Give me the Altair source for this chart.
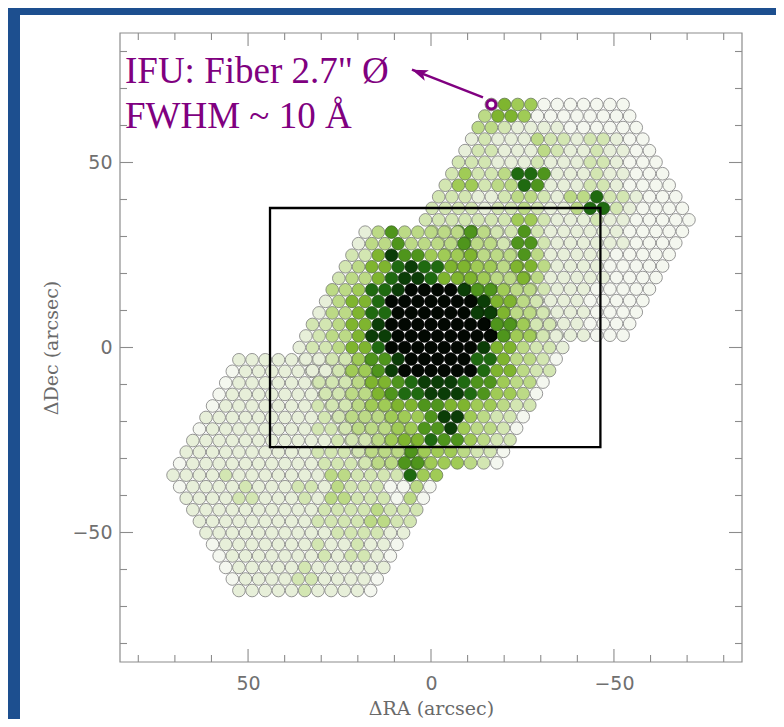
import math
import pandas as pd
import altair as alt

# ---------------- data ----------------
# three PPak-like hexagonal pointings (arcsec), drawn in this order
HEX_CENTERS_RA = [34.5, -34.5, 0.0]
HEX_CENTERS_DEC = [-34.5, 34.5, 0.0]
FIBER_PITCH = 3.6      # fiber centre-to-centre spacing (arcsec)
HEX_RINGS = 10         # 331 fibers per bundle

# flux level (0 = empty ... 9 = saturated) on a
# 5" grid: columns RA = 70 ... -70, rows Dec = 65 ... -65
GRID_RA_START = 70.0
GRID_DEC_START = 65.0
GRID_STEP = 5.0
FLUX_GRID = [
    "0" * 17 + "354" + "0" * 9,
    "0" * 15 + "1132111" + "0" * 7,
    "0" * 15 + "1121132121" + "0" * 4,
    "0" * 15 + "1221121121" + "0" * 4,
    "0" * 15 + "2423761121" + "0" * 4,
    "0" * 14 + "22212321372" + "1" + "0" * 3,
    "0" * 14 + "2222242112" + "1" + "0" * 4,
    "0" * 10 + "136333632621111" + "0" * 4,
    "0" * 9 + "125864453363111" + "0" * 5,
    "0" * 8 + "2235787554353111" + "0" * 5,
    "0" * 8 + "134789998643211" + "0" * 6,
    "0" * 7 + "1135799999853211" + "0" * 6,
    "0" * 7 + "1235899999964211" + "0" * 6,
    "0" * 7 + "123579999985321" + "0" * 7,
    "0" * 4 + "11111246899997532" + "0" * 8,
    "0" * 4 + "1111223567887643" + "0" * 9,
    "0" * 3 + "11111223455655432" + "0" * 9,
    "0" * 2 + "11111122334468432" + "0" * 10,
    "0" + "111111112234576432" + "0" * 10,
    "0" + "11111112223364432" + "0" * 11,
    "111211111322274" + "0" * 14,
    "0" + "1112112132203" + "0" * 15,
    "0" + "1111111222322" + "0" * 15,
    "0" * 2 + "11111112221" + "0" * 16,
    "0" * 3 + "111112121" + "0" * 17,
    "0" * 4 + "11121111" + "0" * 17,
    "0" * 4 + "1112111" + "0" * 18,
]
LEVELS = list(range(10))
LEVEL_COLORS = ["#f4f7ef", "#e7efd9", "#d3e6b2", "#bcda86", "#a0cb56",
                "#7fb52f", "#4f951c", "#1f6a10", "#0b3d07", "#020802"]
LEVEL_OUTLINES = ["#7d7d7d", "#7d7d7d", "#7d7d7d", "#767d6e", "#6a7a5a",
                  "#5a7444", "#3f6a28", "#24501a", "#0d2a08", "#000000"]

# black field-of-view box (arcsec)
BOX_RA = [44.0]
BOX_RA2 = [-46.3]
BOX_DEC = [37.7]
BOX_DEC2 = [-26.9]

# annotation: highlighted fiber, arrow, text
RING_RA = [-16.5]
RING_DEC = [65.7]
ARROW_RA = [-14.2]
ARROW_DEC = [67.6]
ARROW_TIP_RA = [5.2]
ARROW_TIP_DEC = [75.1]
NOTE_LINES = ['IFU: Fiber 2.7" \u00d8', "FWHM ~ 10 \u00c5"]

MAJOR_TICKS = [-50, 0, 50]
MINOR_TICKS = [-80, -70, -60, -40, -30, -20, -10, 10, 20, 30, 40, 60, 70, 80]

# ---------------- build tables ----------------
ncol = len(FLUX_GRID[0])
nrow = len(FLUX_GRID)
rows = []
for hx, hy in zip(HEX_CENTERS_RA, HEX_CENTERS_DEC):
    for j in range(-HEX_RINGS, HEX_RINGS + 1):
        n = 2 * HEX_RINGS + 1 - abs(j)
        for i in range(n):
            ra = hx + (i - (n - 1) / 2) * FIBER_PITCH
            dec = hy + j * FIBER_PITCH * math.sqrt(3) / 2
            c = min(max(int(round((GRID_RA_START - ra) / GRID_STEP)), 0), ncol - 1)
            r = min(max(int(round((GRID_DEC_START - dec) / GRID_STEP)), 0), nrow - 1)
            rows.append({"ra": ra, "dec": dec, "level": int(FLUX_GRID[r][c])})
fib_df = pd.DataFrame(rows)

W, H = 622, 629
CHART_W, CHART_H = 768, 711
PAD_L, PAD_T = 112, 25
PURPLE = "#800080"
FRAME = "#8c8c8c"

xscale = alt.Scale(domain=[-85, 85], reverse=True, nice=False, zero=False)
yscale = alt.Scale(domain=[-85, 85], nice=False, zero=False)
minus = "replace(datum.label, '-', '\u2212')"

x_axis = alt.Axis(title="\u0394RA (arcsec)", values=MAJOR_TICKS, ticks=False, tickSize=0,
                  domain=False, grid=False, labelFont="DejaVu Sans", labelFontSize=19,
                  labelColor="#707070", labelPadding=12, titleFont="DejaVu Serif",
                  titleFontSize=19, titleFontWeight="normal", titleColor="#6a6a6a",
                  titlePadding=6, labelExpr=minus, zindex=1)
y_axis = alt.Axis(title="\u0394Dec (arcsec)", values=MAJOR_TICKS, ticks=False, tickSize=0,
                  domain=False, grid=False, labelFont="DejaVu Sans", labelFontSize=19,
                  labelColor="#707070", labelPadding=8, titleFont="DejaVu Serif",
                  titleFontSize=19, titleFontWeight="normal", titleColor="#6a6a6a",
                  titlePadding=10, labelExpr=minus, zindex=1)

one = pd.DataFrame({"k": [0]})

panel = alt.Chart(one).mark_rect(color="white").encode(
    x=alt.value(-100), x2=alt.value(CHART_W - PAD_L),
    y=alt.value(-18), y2=alt.value(CHART_H - PAD_T))

fibers = alt.Chart(fib_df).mark_circle(size=160, strokeWidth=0.8, opacity=1).encode(
    x=alt.X("ra:Q", scale=xscale, axis=x_axis),
    y=alt.Y("dec:Q", scale=yscale, axis=y_axis),
    color=alt.Color("level:O", scale=alt.Scale(domain=LEVELS, range=LEVEL_COLORS), legend=None),
    stroke=alt.Stroke("level:O", scale=alt.Scale(domain=LEVELS, range=LEVEL_OUTLINES), legend=None),
)

box = alt.Chart(pd.DataFrame({"ra": BOX_RA, "ra2": BOX_RA2, "dec": BOX_DEC, "dec2": BOX_DEC2})).mark_rect(
    fillOpacity=0, stroke="black", strokeWidth=2.3).encode(
    x="ra:Q", x2="ra2", y="dec:Q", y2="dec2")

frame = alt.Chart(one).mark_rect(fillOpacity=0, stroke=FRAME, strokeWidth=1.2).encode(
    x=alt.value(0), x2=alt.value(W), y=alt.value(0), y2=alt.value(H))

tick_layers = []
for vals, ln in [(MAJOR_TICKS, 13), (MINOR_TICKS, 7)]:
    xd = pd.DataFrame({"ra": vals})
    yd = pd.DataFrame({"dec": vals})
    tick_layers.append(alt.Chart(xd).mark_rule(color=FRAME, strokeWidth=1.1).encode(
        x="ra:Q", y=alt.value(H), y2=alt.value(H - ln)))
    tick_layers.append(alt.Chart(xd).mark_rule(color=FRAME, strokeWidth=1.1).encode(
        x="ra:Q", y=alt.value(0), y2=alt.value(ln)))
    tick_layers.append(alt.Chart(yd).mark_rule(color=FRAME, strokeWidth=1.1).encode(
        y="dec:Q", x=alt.value(0), x2=alt.value(ln)))
    tick_layers.append(alt.Chart(yd).mark_rule(color=FRAME, strokeWidth=1.1).encode(
        y="dec:Q", x=alt.value(W), x2=alt.value(W - ln)))

ring = alt.Chart(pd.DataFrame({"ra": RING_RA, "dec": RING_DEC})).mark_circle(
    size=81, fill="white", stroke=PURPLE, strokeWidth=3, opacity=1).encode(x="ra:Q", y="dec:Q")

arrow = alt.Chart(pd.DataFrame({"ra": ARROW_RA, "dec": ARROW_DEC,
                                "ra2": ARROW_TIP_RA, "dec2": ARROW_TIP_DEC})).mark_rule(
    color=PURPLE, strokeWidth=2.5).encode(x="ra:Q", x2="ra2", y="dec:Q", y2="dec2")

head = alt.Chart(pd.DataFrame({"ra": ARROW_TIP_RA, "dec": ARROW_TIP_DEC})).mark_point(
    shape="M0,0L1,2.8L0,2.1L-1,2.8Z", filled=True, size=130, angle=291.5,
    color=PURPLE, opacity=1).encode(x="ra:Q", y="dec:Q")

note1 = alt.Chart(pd.DataFrame({"t": [NOTE_LINES[0]]})).mark_text(
    align="left", baseline="alphabetic", font="Liberation Serif", fontSize=37, color=PURPLE).encode(
    x=alt.value(5), y=alt.value(50), text="t:N")
note2 = alt.Chart(pd.DataFrame({"t": [NOTE_LINES[1]]})).mark_text(
    align="left", baseline="alphabetic", font="Liberation Serif", fontSize=37, color=PURPLE).encode(
    x=alt.value(5), y=alt.value(95), text="t:N")

chart = alt.layer(panel, fibers, box, frame, *tick_layers, ring, arrow, head, note1, note2).properties(
    width=W, height=H,
    padding={"left": PAD_L, "top": PAD_T, "right": CHART_W - PAD_L - W, "bottom": CHART_H - PAD_T - H},
    autosize=alt.AutoSizeParams(type="none"),
).configure(background="#1d4f8f").configure_view(strokeWidth=0)

chart.save("out.html", embed_options={"renderer": "svg", "actions": False})
